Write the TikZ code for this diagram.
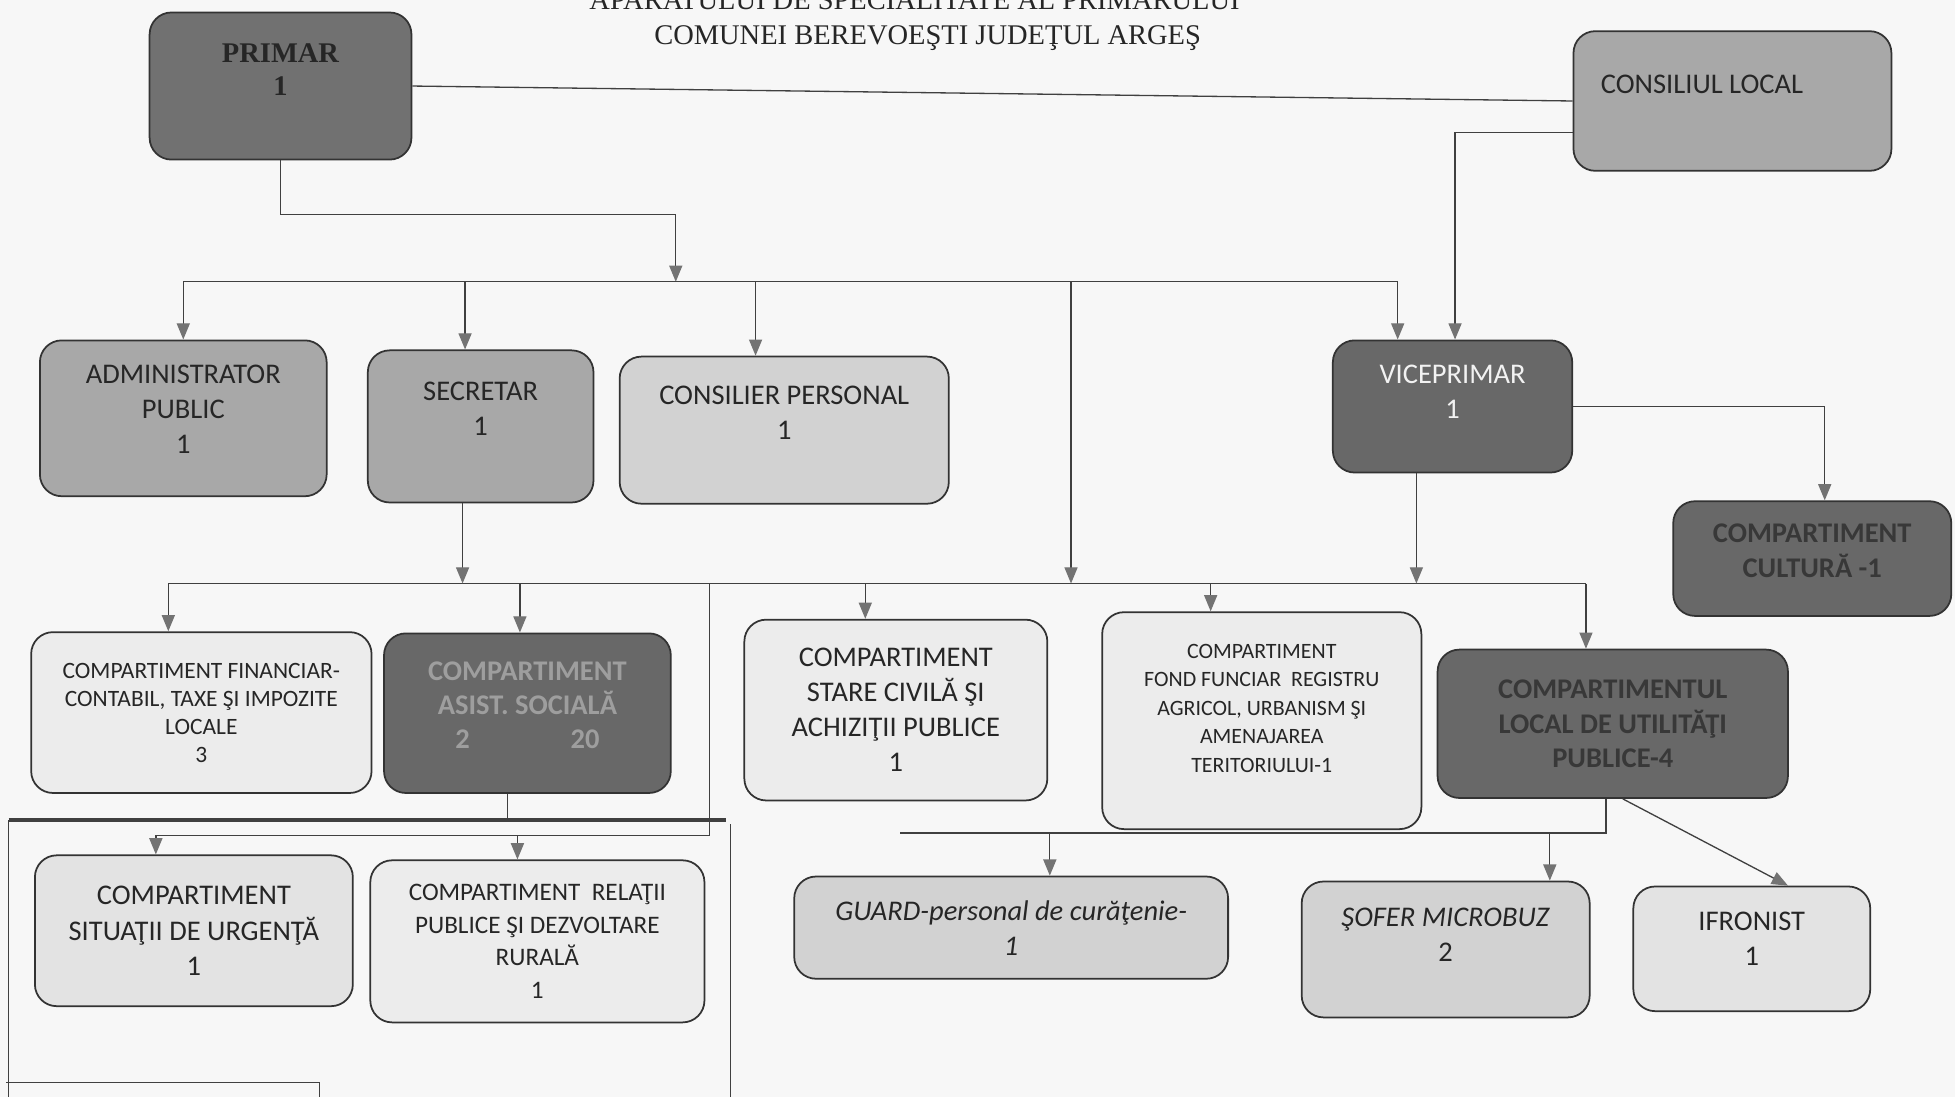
\documentclass[tikz,border=0pt]{standalone}
\usepackage{fontspec}
\setmainfont{Carlito}
\newfontfamily\titlefont{Liberation Serif}
\usetikzlibrary{arrows.meta,calc}

\newlength{\unitpx}
\setlength{\unitpx}{0.2mm}
% empty last line, pushes the text of a box upwards
\newcommand{\padline}[1]{\\[#1]\mbox{}}

\definecolor{paper}{HTML}{F7F7F7}
\definecolor{primcol}{HTML}{717171}
\definecolor{darkcol}{HTML}{686868}
\definecolor{midcol}{HTML}{A8A8A8}
\definecolor{softcol}{HTML}{D2D2D2}
\definecolor{palecol}{HTML}{ECECEC}
\definecolor{situcol}{HTML}{E3E3E3}

\tikzset{
  box/.style={draw=black!80, line width=0.8pt, rounded corners=3.5mm, align=center,
    inner sep=2pt, font=\fontsize{13}{16}\selectfont, text=black!85},
  sz/.style 2 args={minimum width=#1\unitpx, minimum height=#2\unitpx},
  link/.style={draw=black!75, line width=0.6pt},
  arr/.style={link, -{Triangle[length=2.6mm, width=2.1mm, color=black!55]}},
}

\begin{document}
\begin{tikzpicture}[x=0.2mm, y=-0.2mm]

  \fill[paper] (0,0) rectangle (1568,880);
  \useasboundingbox (0,0) rectangle (1568,880);

  % title
  \node[font=\titlefont\fontsize{13}{15}\selectfont, anchor=base, text=black!85] (title1) at (733.5,8) {APARATULUI DE SPECIALITATE AL PRIMARULUI};
  \node[font=\titlefont\fontsize{13}{15}\selectfont, anchor=base, text=black!85] (title2) at (744,36) {COMUNEI BEREVOEŞTI JUDEŢUL ARGEŞ};

  % top level
  \node[box, sz={210}{118}, fill=primcol, font=\titlefont\bfseries\fontsize{13}{15}\selectfont] (primar) at (225,69) {PRIMAR\\1\padline{0pt}};
  \node[box, sz={255}{112}, fill=midcol, text width=211\unitpx, align=flush left] (consiliu) at (1389.5,81) {CONSILIUL LOCAL\padline{-1pt}};

  \node[box, sz={230}{125}, fill=midcol] (admin) at (147,335.5) {ADMINISTRATOR\\PUBLIC\\1\padline{-8pt}};
  \node[box, sz={181}{122}, fill=midcol] (secretar) at (385.5,342) {SECRETAR\\1\padline{0pt}};
  \node[box, sz={264}{118}, fill=softcol] (consilier) at (629,345) {CONSILIER PERSONAL\\1\padline{0pt}};
  \node[box, sz={192}{106}, fill=darkcol, text=white!95!black] (vice) at (1165,326) {VICEPRIMAR\\1\padline{-3pt}};
  \node[box, sz={223}{92}, fill=darkcol, text=black!78, font=\bfseries\fontsize{13}{16}\selectfont] (cultura) at (1453.5,448) {COMPARTIMENT\\CULTURĂ -1\padline{-9pt}};

  % compartments
  \node[box, sz={273}{129}, fill=palecol, font=\fontsize{10.7}{12.8}\selectfont] (financiar) at (161.5,571.5) {COMPARTIMENT FINANCIAR-\\CONTABIL, TAXE ŞI IMPOZITE\\LOCALE\\3};
  \node[box, sz={230}{128}, fill=darkcol, text=black!38, font=\bfseries\fontsize{13}{15.4}\selectfont] (asist) at (423,572) {COMPARTIMENT\\ASIST. SOCIALĂ\\2\hspace{46pt}20\padline{-8pt}};
  \node[box, sz={243}{145}, fill=palecol] (stare) at (718.5,569.5) {COMPARTIMENT\\STARE CIVILĂ ŞI\\ACHIZIŢII PUBLICE\\1};
  \node[box, sz={256}{174}, fill=palecol, font=\fontsize{10}{13}\selectfont] (fond) at (1012,578) {COMPARTIMENT\\FOND FUNCIAR\ \ REGISTRU\\AGRICOL, URBANISM ŞI\\AMENAJAREA\\TERITORIULUI-1\padline{-1.6pt}};
  \node[box, sz={281}{119}, fill=darkcol, text=black!78, font=\bfseries\fontsize{13}{15.6}\selectfont] (utilitati) at (1293.5,580.5) {COMPARTIMENTUL\\LOCAL DE UTILITĂŢI\\PUBLICE-4};

  \node[box, sz={255}{121}, fill=situcol] (situatii) at (155.5,746.5) {COMPARTIMENT\\SITUAŢII DE URGENŢĂ\\1};
  \node[box, sz={268}{130}, fill=palecol, font=\fontsize{11.5}{14.8}\selectfont] (relatii) at (431,755) {COMPARTIMENT\ \ RELAŢII\\PUBLICE ŞI DEZVOLTARE\\RURALĂ\\1};
  \node[box, sz={348}{82}, fill=softcol, font=\itshape\fontsize{13}{16}\selectfont] (guard) at (811,744) {GUARD-personal de curăţenie-\\1};
  \node[box, sz={231}{109}, fill=softcol] (sofer) at (1159.5,761.5) {\textit{ŞOFER MICROBUZ}\\2\padline{-2.3pt}};
  \node[box, sz={190}{100}, fill=situcol] (ifronist) at (1405,761) {IFRONIST\\1\padline{-6.8pt}};

  % bus points
  \coordinate (pk) at (542,172);
  \coordinate (b1a) at (542,226);
  \coordinate (t1) at (147,226);
  \coordinate (t2) at (373,226);
  \coordinate (t3) at (606,226);
  \coordinate (t4) at (859,226);
  \coordinate (t5) at (1121,226);

  \coordinate (s1) at (135,468);
  \coordinate (s2) at (371,468);
  \coordinate (s3) at (417,468);
  \coordinate (s4) at (569,468);
  \coordinate (s5) at (694,468);
  \coordinate (s6) at (859,468);
  \coordinate (s7) at (971,468);
  \coordinate (s8) at (1136,468);
  \coordinate (s9) at (1272,468);

  \coordinate (r0) at (125,670);
  \coordinate (r1) at (415,670);

  \coordinate (u0) at (722,668);
  \coordinate (u1) at (842,668);
  \coordinate (u2) at (1243,668);
  \coordinate (u3) at (1288,668);

  % frame below the social assistance box
  \coordinate (fw) at (7,658);
  \coordinate (fe) at (582,658);
  \coordinate (fsw) at (7,880);
  \coordinate (fne) at (586,661);
  \coordinate (fse) at (586,880);
  \coordinate (a1) at (407,658);
  \coordinate (bl1) at (5,868);
  \coordinate (bl2) at (256,868);
  \coordinate (bl3) at (256,880);

  % connectors
  \draw[link] (primar.east) -- (consiliu.west);
  \draw[arr] (primar.south) |- (pk) -- (b1a);
  \draw[link] (t1) -- (t5);
  \foreach \t/\n in {t1/admin, t2/secretar, t3/consilier, t5/vice}
    \draw[arr] (\t) -- (\n.north -| \t);
  \draw[arr] (t4) -- (s6);
  \draw[arr] ($(consiliu.west)+(0,25)$) -| ($(vice.north)+(2,0)$);
  \draw[arr] (vice.east) -| ($(cultura.north)+(10,0)$);

  \draw[link] (s1) -- (s9);
  \draw[arr] (secretar.south -| s2) -- (s2);
  \draw[arr] (vice.south -| s8) -- (s8);
  \foreach \s/\n in {s1/financiar, s3/asist, s5/stare, s7/fond, s9/utilitati}
    \draw[arr] (\s) -- (\n.north -| \s);

  \draw[link, line width=1.8pt] (fw) -- (fe);
  \draw[link] (fw) -- (fsw);
  \draw[link] (fne) -- (fse);
  \draw[link] (asist.south -| a1) -- (a1);
  \draw[link] (bl1) -- (bl2) -- (bl3);

  \draw[link] (s4) |- (r0);
  \draw[arr] (r0) -- (situatii.north -| r0);
  \draw[arr] (r1) -- (relatii.north -| r1);

  \draw[link] (utilitati.south -| u3) -- (u3) -- (u0);
  \draw[arr] (u1) -- (guard.north -| u1);
  \draw[arr] (u2) -- (sofer.north -| u2);
  \draw[arr] ($(utilitati.south)+(8,0)$) -- ($(ifronist.north)+(29,0)$);

\end{tikzpicture}
\end{document}
